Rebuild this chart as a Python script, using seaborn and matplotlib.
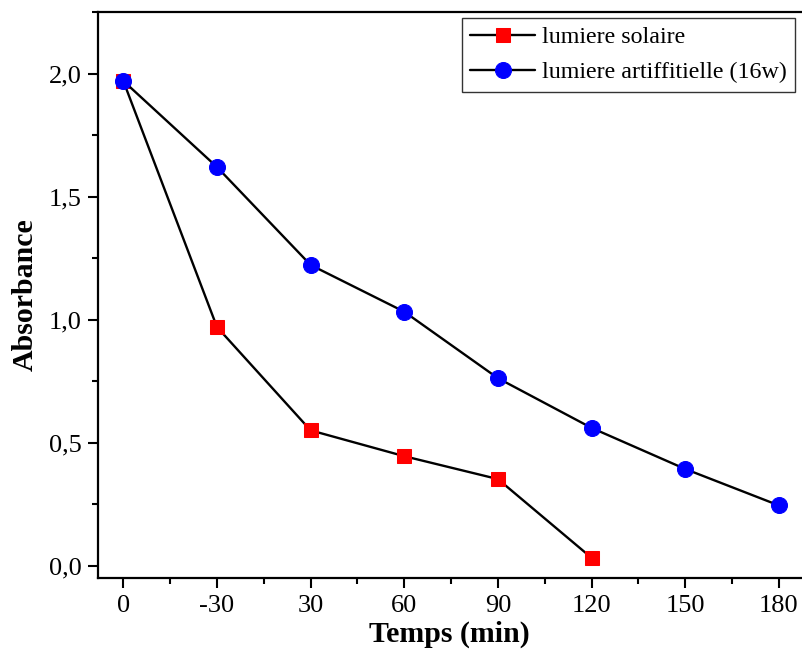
import numpy as np
import pandas as pd
import matplotlib
matplotlib.use('Agg')
import matplotlib.pyplot as plt
import seaborn as sns
from matplotlib.ticker import AutoMinorLocator, FixedLocator

# données
temps_labels = ['0', '-30', '30', '60', '90', '120', '150', '180']
abs_solaire = [1.97, 0.97, 0.55, 0.445, 0.352, 0.032]
abs_artif = [1.97, 1.62, 1.222, 1.032, 0.762, 0.56, 0.393, 0.245]

sns.set_style('ticks')
plt.rcParams['font.family'] = ['Liberation Serif', 'DejaVu Serif']
plt.rcParams['text.color'] = 'black'
plt.rcParams['axes.labelcolor'] = 'black'
plt.rcParams['xtick.color'] = 'black'
plt.rcParams['ytick.color'] = 'black'

df_sol = pd.DataFrame({'pos': np.arange(len(abs_solaire)), 'abs': abs_solaire})
df_art = pd.DataFrame({'pos': np.arange(len(abs_artif)), 'abs': abs_artif})

fig = plt.figure(figsize=(8.02, 6.51), dpi=100)
ax = fig.add_axes([0.1222, 0.1121, 0.877, 0.8695])

sns.lineplot(data=df_sol, x='pos', y='abs', ax=ax, color='black', lw=1.7,
             marker='s', markersize=10, markerfacecolor='red', markeredgecolor='red',
             label='lumiere solaire')
sns.lineplot(data=df_art, x='pos', y='abs', ax=ax, color='black', lw=1.7,
             marker='o', markersize=11.5, markerfacecolor='blue', markeredgecolor='blue',
             label='lumiere artiffitielle (16w)')

ax.set_xlim(-0.27, 7.24)
ax.set_ylim(-0.05, 2.25)
ax.xaxis.set_major_locator(FixedLocator(range(len(temps_labels))))
ax.set_xticklabels(temps_labels)
ax.xaxis.set_minor_locator(AutoMinorLocator(2))
ax.set_yticks([0, 0.5, 1.0, 1.5, 2.0])
ax.set_yticklabels(['0,0', '0,5', '1,0', '1,5', '2,0'])
ax.yaxis.set_minor_locator(AutoMinorLocator(2))

ax.tick_params(which='major', direction='out', length=7, width=1.5, labelsize=19, pad=5)
ax.tick_params(which='minor', direction='out', length=4, width=1.5)
for s in ax.spines.values():
    s.set_linewidth(1.6)
    s.set_color('black')
ax.spines['right'].set_visible(False)

ax.set_xlabel('Temps (min)', fontsize=21.5, fontweight='bold', labelpad=3)
ax.set_ylabel('Absorbance', fontsize=21.5, fontweight='bold', labelpad=7)

leg = ax.legend(loc='upper right', fontsize=17.3, frameon=True, fancybox=False,
                edgecolor='black', handlelength=2.7, handletextpad=0.3,
                borderaxespad=0.25, borderpad=0.35, labelspacing=0.55)
leg.get_frame().set_linewidth(1.0)

fig.savefig('out.png', dpi=100)
